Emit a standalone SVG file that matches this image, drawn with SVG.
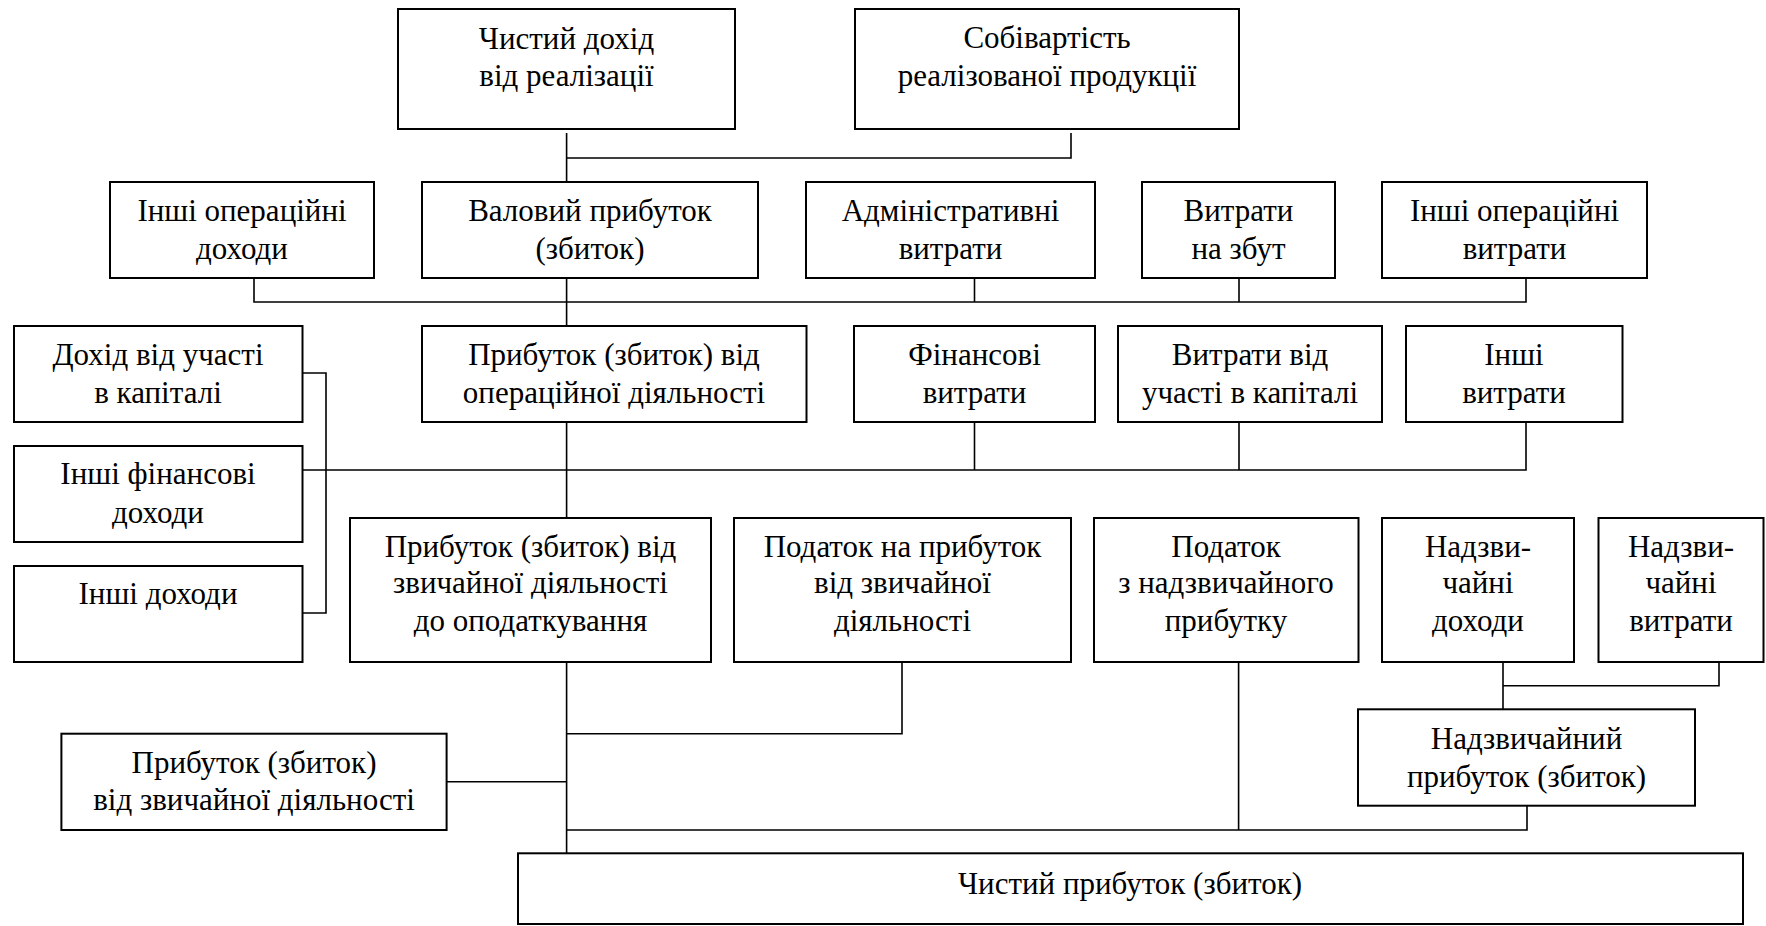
<svg xmlns="http://www.w3.org/2000/svg" width="1766" height="926" viewBox="0 0 1766 926">
<style>
rect{fill:#fff;stroke:#000;stroke-width:2}
text{font-family:"Liberation Serif","Times New Roman",serif;font-size:31px;fill:#000;text-anchor:middle}
#connectors path{fill:none;stroke:#000;stroke-width:1.6}
</style>
<rect x="0" y="0" width="1766" height="926" style="stroke:none"/>
<g id="connectors">
<path d="M566.6,133 V182 M566.6,158 H1071 V133"/>
<path d="M254,278 V302 H1526 V278 M566.6,278 V326 M974.5,278 V302 M1239,278 V302"/>
<path d="M302,470 H1526 V422 M566.6,422 V518 M974.5,422 V470 M1239,422 V470 M302,373 H326 V613 H302"/>
<path d="M566.6,662 V853 M566.6,733.7 H902 V662 M446.6,781.7 H566.6 M566.6,830 H1527 V806 M1238.6,662 V830 M1503,662 V709 M1503,685.7 H1719 V662"/>
</g>
<g id="n1"><rect x="398" y="9" width="337" height="120"/><text x="566.5" y="49">Чистий дохід</text><text x="566.5" y="86">від реалізації</text></g>
<g id="n2"><rect x="855" y="9" width="384" height="120"/><text x="1047" y="48">Собівартість</text><text x="1047" y="86">реалізованої продукції</text></g>
<g id="n3"><rect x="110" y="182" width="264" height="96"/><text x="242" y="221">Інші операційні</text><text x="242" y="259">доходи</text></g>
<g id="n4"><rect x="422" y="182" width="336" height="96"/><text x="590" y="221">Валовий прибуток</text><text x="590" y="259">(збиток)</text></g>
<g id="n5"><rect x="806" y="182" width="289" height="96"/><text x="950.5" y="221">Адміністративні</text><text x="950.5" y="259">витрати</text></g>
<g id="n6"><rect x="1142" y="182" width="193" height="96"/><text x="1238.5" y="221">Витрати</text><text x="1238.5" y="259">на збут</text></g>
<g id="n7"><rect x="1382" y="182" width="265" height="96"/><text x="1514.5" y="221">Інші операційні</text><text x="1514.5" y="259">витрати</text></g>
<g id="n8"><rect x="14" y="326" width="288.5" height="96"/><text x="158" y="365">Дохід від участі</text><text x="158" y="403">в капіталі</text></g>
<g id="n9"><rect x="422" y="326" width="384.5" height="96"/><text x="614" y="365">Прибуток (збиток) від</text><text x="614" y="403">операційної діяльності</text></g>
<g id="n10"><rect x="854" y="326" width="241" height="96"/><text x="974.5" y="365">Фінансові</text><text x="974.5" y="403">витрати</text></g>
<g id="n11"><rect x="1118" y="326" width="264" height="96"/><text x="1250" y="365">Витрати від</text><text x="1250" y="403">участі в капіталі</text></g>
<g id="n12"><rect x="1406" y="326" width="216.5" height="96"/><text x="1514" y="365">Інші</text><text x="1514" y="403">витрати</text></g>
<g id="n13"><rect x="14" y="446" width="288.5" height="96"/><text x="158" y="484">Інші фінансові</text><text x="158" y="523">доходи</text></g>
<g id="n14"><rect x="14" y="566" width="288.5" height="96"/><text x="158" y="604">Інші доходи</text></g>
<g id="n15"><rect x="350" y="518" width="361" height="144"/><text x="530.5" y="557">Прибуток (збиток) від</text><text x="530.5" y="593">звичайної діяльності</text><text x="530.5" y="631">до оподаткування</text></g>
<g id="n16"><rect x="734" y="518" width="337" height="144"/><text x="902.5" y="557">Податок на прибуток</text><text x="902.5" y="593">від звичайної</text><text x="902.5" y="631">діяльності</text></g>
<g id="n17"><rect x="1094" y="518" width="264.5" height="144"/><text x="1226" y="557">Податок</text><text x="1226" y="593">з надзвичайного</text><text x="1226" y="631">прибутку</text></g>
<g id="n18"><rect x="1382" y="518" width="192" height="144"/><text x="1478" y="557">Надзви-</text><text x="1478" y="593">чайні</text><text x="1478" y="631">доходи</text></g>
<g id="n19"><rect x="1598.5" y="518" width="165" height="144"/><text x="1681" y="557">Надзви-</text><text x="1681" y="593">чайні</text><text x="1681" y="631">витрати</text></g>
<g id="n20"><rect x="61.4" y="733.7" width="385.2" height="96.3"/><text x="254" y="773">Прибуток (збиток)</text><text x="254" y="810">від звичайної діяльності</text></g>
<g id="n21"><rect x="1358" y="709.3" width="337" height="96.4"/><text x="1526.5" y="749">Надзвичайний</text><text x="1526.5" y="787">прибуток (збиток)</text></g>
<g id="n22"><rect x="518" y="853.3" width="1225" height="70.7"/><text x="1130" y="894">Чистий прибуток (збиток)</text></g>
</svg>
